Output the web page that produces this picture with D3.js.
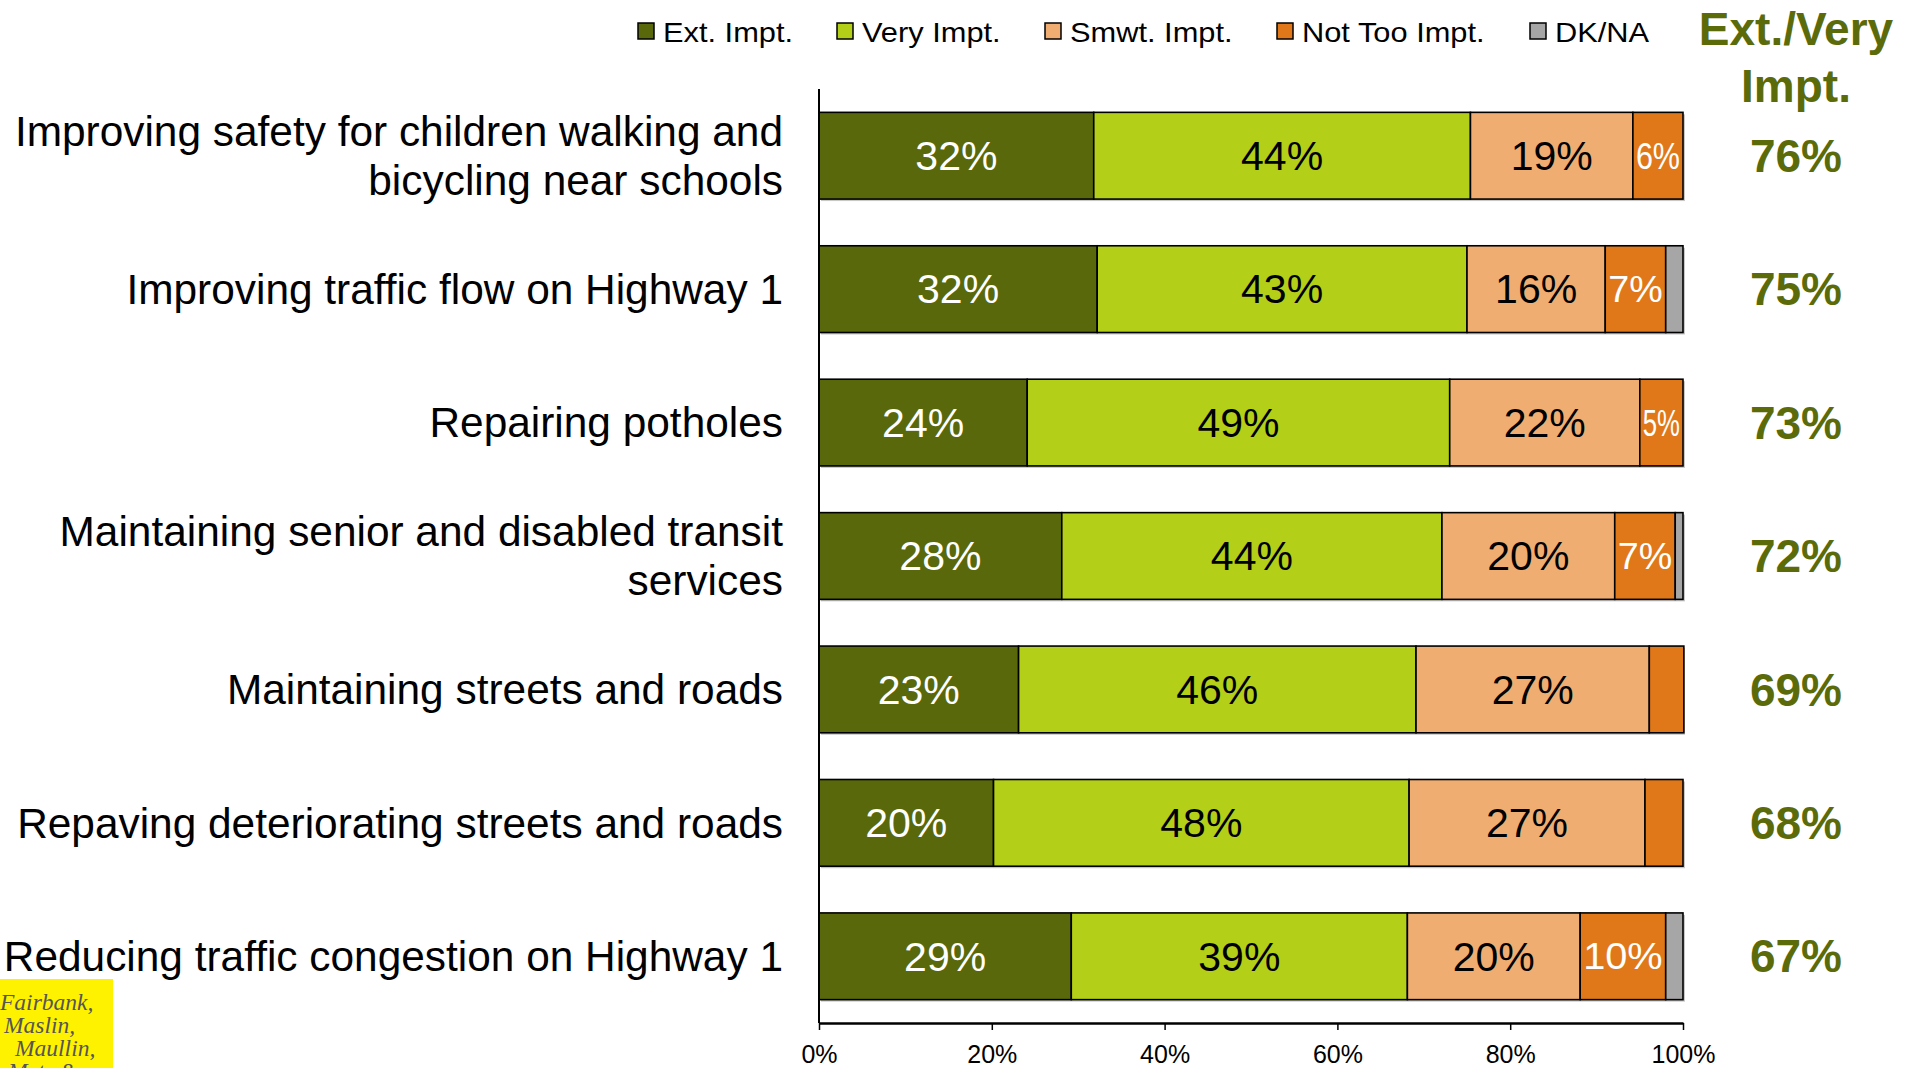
<!DOCTYPE html>
<html>
<head>
<meta charset="utf-8">
<script src="https://cdn.jsdelivr.net/npm/d3@7"></script>
<style>
  body { margin: 0; background: #fff; }
  svg { display: block; font-family: "Liberation Sans", Arial, sans-serif; }
</style>
</head>
<body>
<div id="chart"></div>
<script>
// --- DATOS ---
const categories = [
  "Improving safety for children walking and\nbicycling near schools",
  "Improving traffic flow on Highway 1",
  "Repairing potholes",
  "Maintaining senior and disabled transit\nservices",
  "Maintaining streets and roads",
  "Repaving deteriorating streets and roads",
  "Reducing traffic congestion on Highway 1"
];
const seriesNames = ["Ext. Impt.", "Very Impt.", "Smwt. Impt.", "Not Too Impt.", "DK/NA"];
const extImpt    = [31.8, 32.2, 24.1, 28.1, 23.1, 20.2, 29.2];
const veryImpt   = [43.6, 42.8, 48.9, 44.0, 46.0, 48.1, 38.9];
const smwtImpt   = [18.8, 16.0, 22.0, 20.0, 27.0, 27.3, 20.0];
const notTooImpt = [5.8, 7.0, 5.0, 7.0, 4.0, 4.4, 9.9];
const dkna       = [0, 2.0, 0, 0.9, 0, 0, 2.0];
const extVeryTotal = [76, 75, 73, 72, 69, 68, 67];
const xTicks = [0, 20, 40, 60, 80, 100];

// --- CONFIG ---
const W = 1919, H = 1068;
const x0 = 819, x1 = 1683, yTop = 89, yBottom = 1023;
const colors = ["#58680b", "#b4cf17", "#efad71", "#e07819", "#a6a6a6"];
const labelColors = ["#fff", "#000", "#000", "#fff", "#000"];
const green = "#5b6b0a";
const legendX = [638, 837, 1045, 1277, 1530];

const rows = categories.map((c, i) => ({
  cat: c,
  "Ext. Impt.": extImpt[i],
  "Very Impt.": veryImpt[i],
  "Smwt. Impt.": smwtImpt[i],
  "Not Too Impt.": notTooImpt[i],
  "DK/NA": dkna[i],
  total: extVeryTotal[i]
}));

const svg = d3.select("#chart").append("svg")
  .attr("width", W).attr("height", H);

const x = d3.scaleLinear().domain([0, 100]).range([x0, x1]);
const y = d3.scaleBand().domain(categories).range([yTop, yBottom])
  .paddingInner(0.35).paddingOuter(0.175);

const stacked = d3.stack().keys(seriesNames)(rows);

// sombra de las barras
svg.append("g").selectAll("rect").data(rows).enter().append("rect")
  .attr("x", x(0) + 2).attr("y", d => y(d.cat) + 2)
  .attr("width", x(100) - x(0)).attr("height", y.bandwidth())
  .attr("fill", "#c8c8c8");

// --- BARRAS ---
const layers = svg.append("g").selectAll("g").data(stacked).enter().append("g")
  .attr("fill", (d, i) => colors[i]);

layers.selectAll("rect").data(d => d).enter().append("rect")
  .attr("x", d => x(d[0]))
  .attr("y", d => y(d.data.cat))
  .attr("width", d => x(d[1]) - x(d[0]))
  .attr("height", y.bandwidth())
  .attr("stroke", "#000")
  .attr("stroke-width", d => (d[1] - d[0]) > 0 ? 1.6 : 0);

// etiquetas de valores
const fmt = d3.format(".0f");
stacked.forEach((layer, li) => {
  layer.forEach(d => {
    const v = d[1] - d[0];
    if (v < 4.5) return;
    const segW = x(d[1]) - x(d[0]);
    const t = svg.append("text")
      .attr("x", (x(d[0]) + x(d[1])) / 2)
      .attr("y", y(d.data.cat) + y.bandwidth() / 2)
      .attr("dy", "0.35em")
      .attr("text-anchor", "middle")
      .attr("font-size", 41)
      .attr("fill", labelColors[li])
      .text(fmt(v) + "%");
    const tw = t.node().getComputedTextLength();
    if (tw > segW - 6) {
      t.attr("font-size", 37)
        .attr("textLength", segW - 6)
        .attr("lengthAdjust", "spacingAndGlyphs");
    }
  });
});

// --- EJES ---
svg.append("line")
  .attr("x1", x0).attr("x2", x0).attr("y1", yTop).attr("y2", yBottom)
  .attr("stroke", "#000").attr("stroke-width", 2);

const xAxis = d3.axisBottom(x).tickValues(xTicks)
  .tickFormat(d => d + "%").tickSizeInner(7).tickSizeOuter(0).tickPadding(15);

const gx = svg.append("g").attr("transform", `translate(0,${yBottom})`).call(xAxis);
gx.select(".domain").attr("stroke", "#000").attr("stroke-width", 2.5);
gx.selectAll(".tick line").attr("stroke", "#000").attr("stroke-width", 1.5);
gx.selectAll(".tick text").attr("font-size", 25).attr("fill", "#000")
  .attr("font-family", "Liberation Sans, Arial, sans-serif");

// categorías
const catG = svg.append("g");
categories.forEach(c => {
  const lines = c.split("\n");
  const cy = y(c) + y.bandwidth() / 2;
  const lh = 49;
  const first = cy - (lines.length - 1) * lh / 2;
  const t = catG.append("text").attr("text-anchor", "end").attr("font-size", 42.4).attr("fill", "#000");
  lines.forEach((ln, k) => {
    t.append("tspan").attr("x", 783).attr("y", first + k * lh).attr("dy", "0.35em").text(ln);
  });
});

// columna Ext./Very
svg.append("text").attr("x", 1796).attr("y", 45).attr("text-anchor", "middle")
  .attr("font-size", 46).attr("font-weight", "bold").attr("fill", green).text("Ext./Very");
svg.append("text").attr("x", 1796).attr("y", 102).attr("text-anchor", "middle")
  .attr("font-size", 46).attr("font-weight", "bold").attr("fill", green).text("Impt.");
svg.append("g").selectAll("text").data(rows).enter().append("text")
  .attr("x", 1796)
  .attr("y", d => y(d.cat) + y.bandwidth() / 2)
  .attr("dy", "0.35em")
  .attr("text-anchor", "middle")
  .attr("font-size", 46).attr("font-weight", "bold").attr("fill", green)
  .text(d => d.total + "%");

// --- LEYENDA ---
const legend = svg.append("g");
seriesNames.forEach((name, i) => {
  const lx = legendX[i];
  legend.append("rect").attr("x", lx).attr("y", 23).attr("width", 16).attr("height", 16)
    .attr("fill", colors[i]).attr("stroke", "#000").attr("stroke-width", 1.5);
  const t = legend.append("text").attr("x", lx + 25).attr("y", 42)
    .attr("font-size", 28).attr("fill", "#000").text(name);
  const tw = t.node().getComputedTextLength();
  t.attr("textLength", tw * 1.1).attr("lengthAdjust", "spacingAndGlyphs");
});

// logo
const logo = svg.append("g");
logo.append("rect").attr("x", 0).attr("y", 979).attr("width", 113).attr("height", 89).attr("fill", "#fff200");
const logoLines = [["Fairbank,", 0, 1010], ["Maslin,", 4, 1033], ["Maullin,", 15, 1056], ["Metz &", 8, 1079]];
logoLines.forEach(([s, lx2, ly]) => {
  logo.append("text").attr("x", lx2).attr("y", ly)
    .attr("font-family", "Liberation Serif, serif").attr("font-style", "italic")
    .attr("font-size", 23.5).attr("fill", "#555").text(s);
});
</script>
</body>
</html>
